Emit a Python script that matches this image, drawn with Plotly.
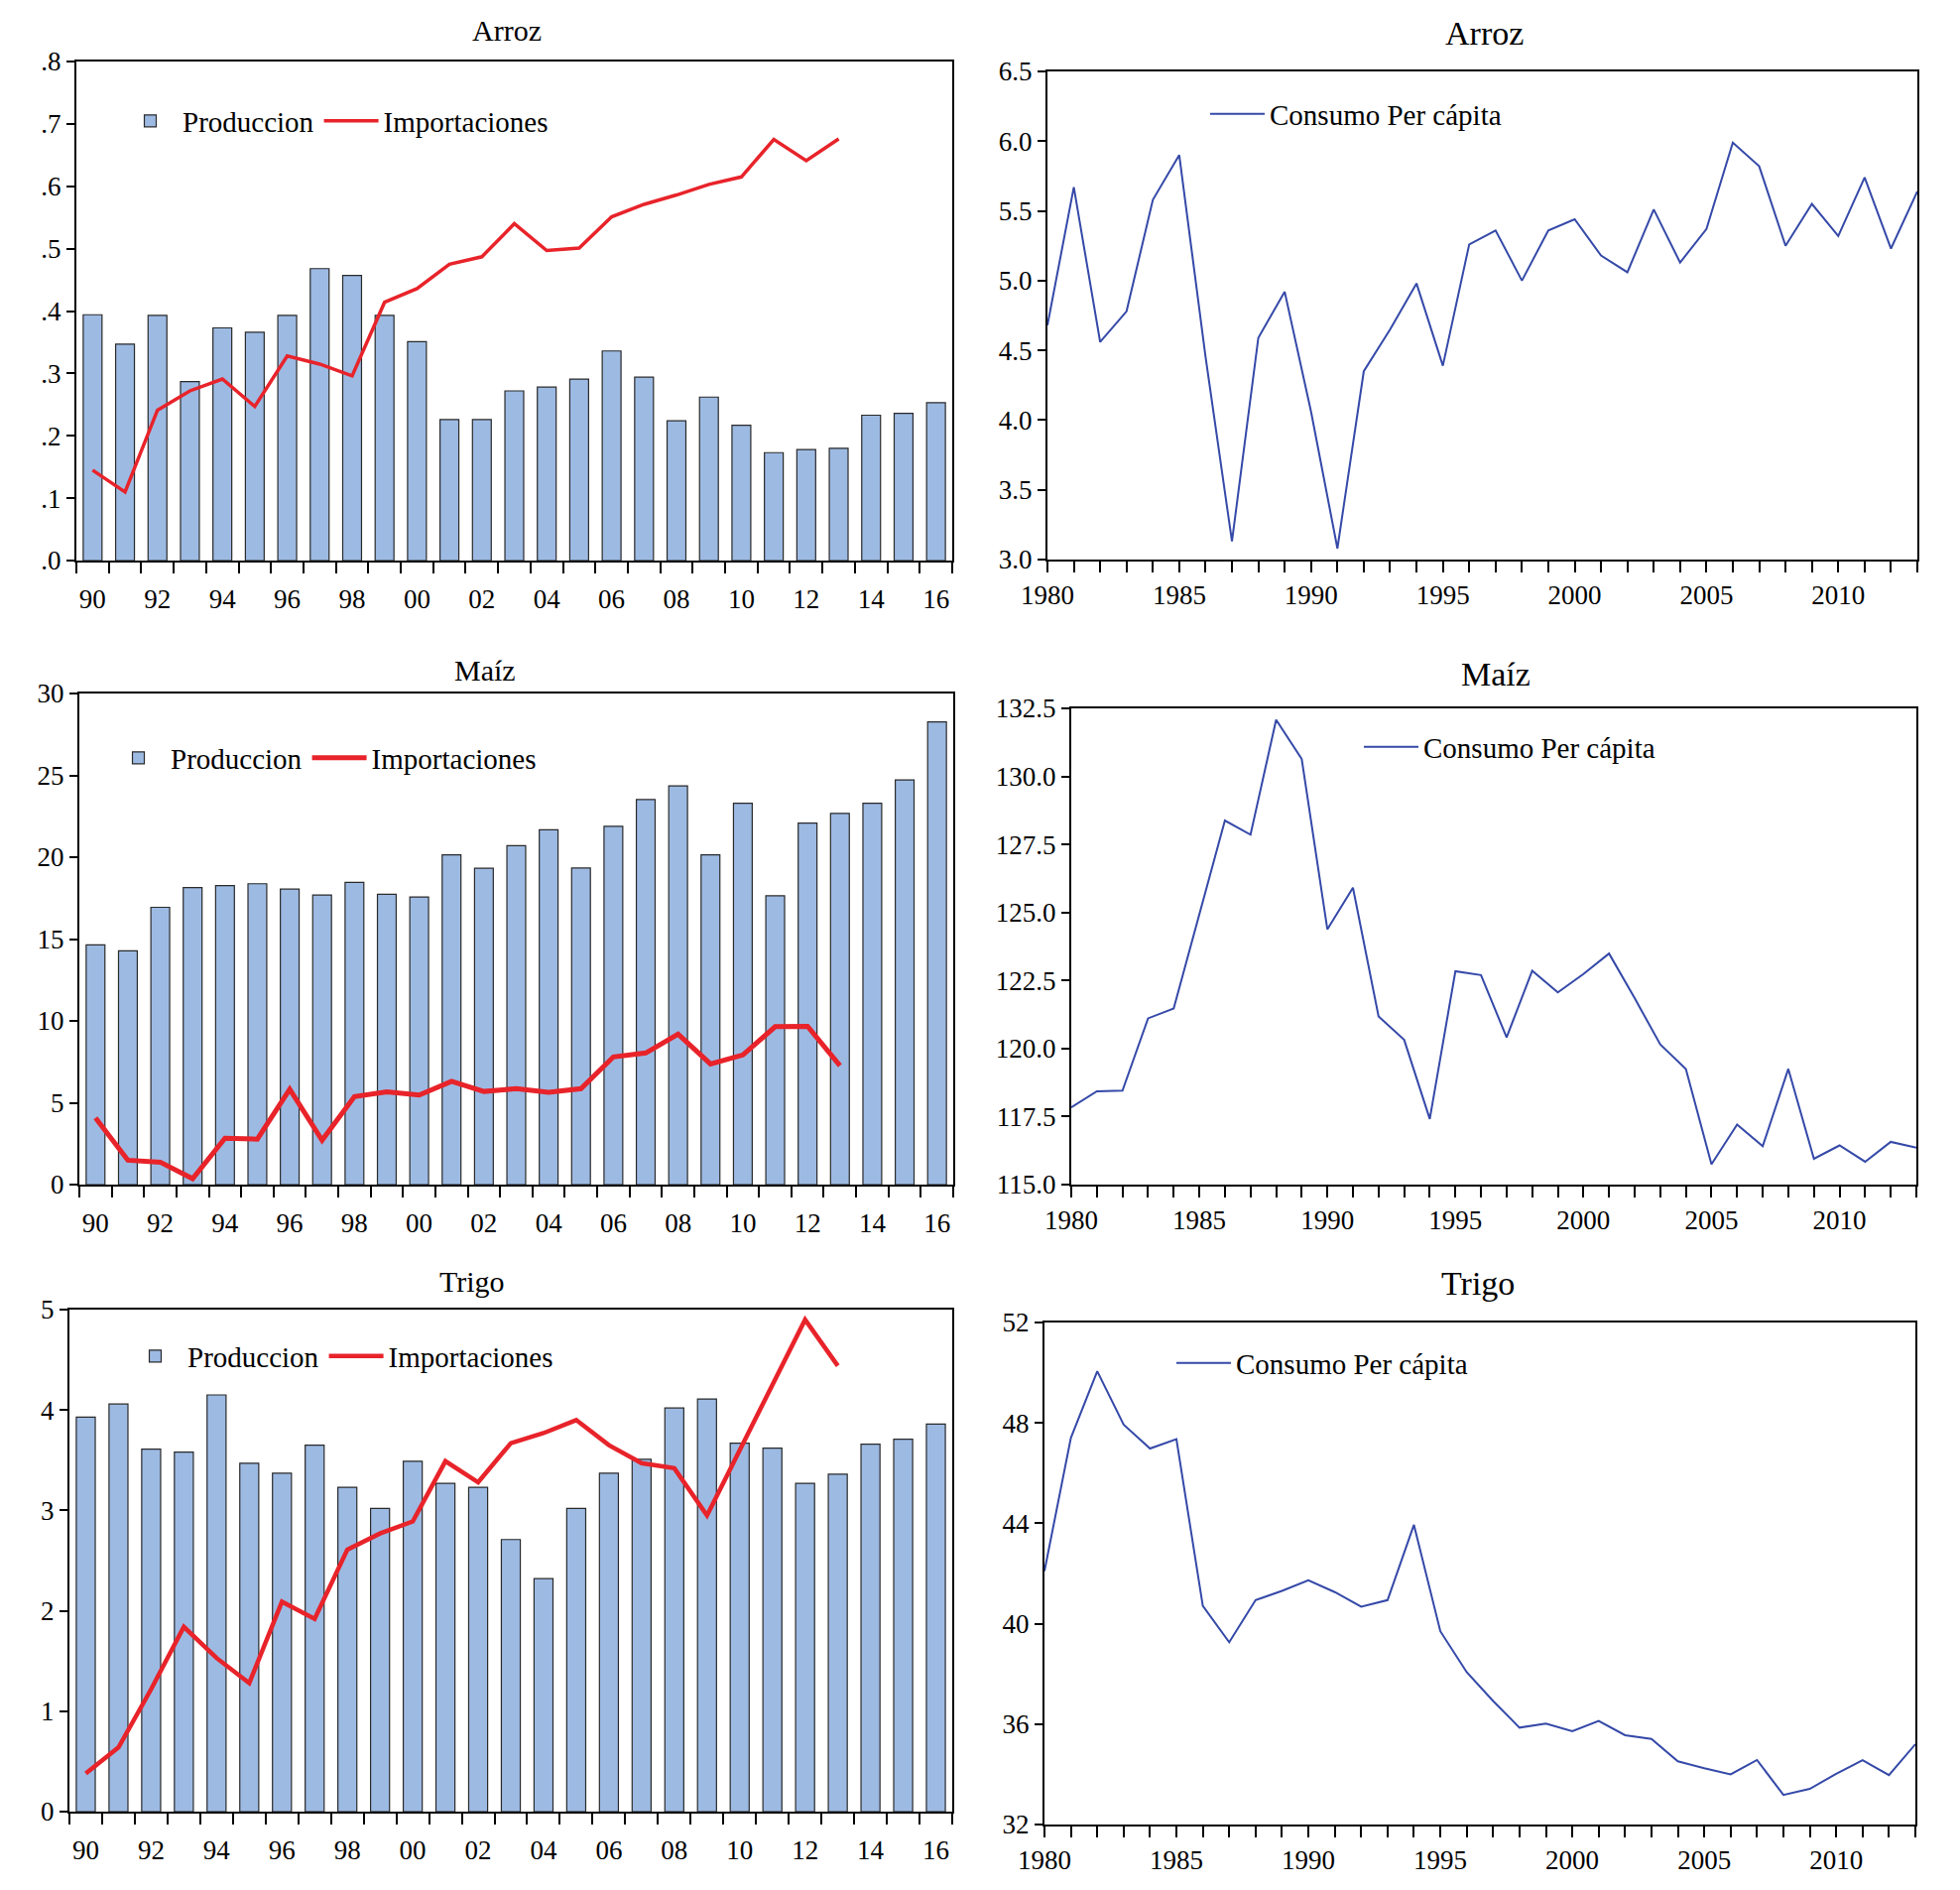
import plotly.graph_objects as go

W, H = 1976, 1905

# ---------------- data ----------------
years_bar = list(range(1990, 2017))
years_imp = list(range(1990, 2014))
years_cons = list(range(1980, 2014))
bar_tick_years = list(range(1990, 2017, 2))
bar_tick_text = ["90", "92", "94", "96", "98", "00", "02", "04", "06", "08", "10", "12", "14", "16"]

arroz_prod = [0.394, 0.347, 0.393, 0.287, 0.373, 0.366, 0.393, 0.468, 0.457, 0.393,
              0.351, 0.226, 0.226, 0.272, 0.278, 0.291, 0.336, 0.294, 0.224, 0.262,
              0.217, 0.173, 0.178, 0.180, 0.233, 0.236, 0.253]
arroz_imp = [0.145, 0.110, 0.241, 0.272, 0.291, 0.247, 0.328, 0.315, 0.296, 0.414,
             0.436, 0.475, 0.487, 0.540, 0.497, 0.501, 0.551, 0.571, 0.586, 0.603,
             0.615, 0.675, 0.641, 0.676]
arroz_cons = [4.68, 5.67, 4.56, 4.78, 5.58, 5.90, 4.45, 3.13, 4.59, 4.92,
              4.06, 3.08, 4.35, 4.65, 4.98, 4.39, 5.26, 5.36, 5.00, 5.36,
              5.44, 5.18, 5.06, 5.51, 5.13, 5.37, 5.99, 5.82, 5.25, 5.55,
              5.32, 5.74, 5.23, 5.64]

maiz_prod = [14.64, 14.28, 16.94, 18.14, 18.26, 18.38, 18.05, 17.69, 18.46, 17.74,
             17.57, 20.14, 19.32, 20.71, 21.67, 19.34, 21.89, 23.52, 24.36, 20.14,
             23.30, 17.64, 22.08, 22.68, 23.30, 24.72, 28.27]
maiz_imp = [4.08, 1.49, 1.37, 0.36, 2.83, 2.78, 5.83, 2.71, 5.38, 5.66,
            5.47, 6.31, 5.69, 5.86, 5.64, 5.86, 7.80, 8.04, 9.19, 7.37,
            7.92, 9.65, 9.67, 7.27]
maiz_cons = [117.84, 118.43, 118.45, 121.11, 121.47, 124.95, 128.38, 127.86, 132.08, 130.64,
             124.38, 125.91, 121.18, 120.32, 117.41, 122.84, 122.70, 120.41, 122.86, 122.06,
             122.74, 123.49, 121.85, 120.15, 119.25, 115.75, 117.21, 116.41, 119.25, 115.95,
             116.44, 115.84, 116.57, 116.36]

trigo_prod = [3.93, 4.06, 3.61, 3.58, 4.15, 3.47, 3.37, 3.65, 3.23, 3.02,
              3.49, 3.27, 3.23, 2.71, 2.32, 3.02, 3.37, 3.51, 4.02, 4.11,
              3.67, 3.62, 3.27, 3.36, 3.66, 3.71, 3.86]
trigo_imp = [0.38, 0.64, 1.22, 1.84, 1.53, 1.28, 2.09, 1.92, 2.61, 2.77,
             2.89, 3.49, 3.28, 3.67, 3.77, 3.90, 3.65, 3.47, 3.42, 2.95,
             3.60, 4.25, 4.90, 4.44]
trigo_cons = [42.1, 47.4, 50.06, 47.93, 46.98, 47.35, 40.71, 39.26, 40.94, 41.31,
              41.73, 41.26, 40.68, 40.94, 43.94, 39.70, 38.07, 36.92, 35.86, 36.02,
              35.72, 36.13, 35.56, 35.41, 34.52, 34.24, 34.00, 34.57, 33.18, 33.42,
              34.02, 34.56, 33.97, 35.20]

cons_label_years = [y if y % 5 == 0 else "" for y in years_cons]

# ---------------- style ----------------
FONT = "Liberation Serif"
BAR_FILL = "#9dbae3"
BAR_LINE = "#2a2a2a"
RED = "#e8232a"
BLUE = "#3549a8"

# panel pixel boxes: left, right, top, bottom
boxes = {
    1: (69, 952, 54, 557),       # Arroz bars
    2: (1048, 1925, 64, 556),    # Arroz consumo
    3: (72, 953, 691, 1186),     # Maiz bars
    4: (1072, 1924, 706, 1186),  # Maiz consumo
    5: (62, 952, 1312, 1818),    # Trigo bars
    6: (1045, 1923, 1325, 1831), # Trigo consumo
}

def dom(i):
    l, r, t, b = boxes[i]
    return [l / W, r / W], [1 - b / H, 1 - t / H]

fig = go.Figure()

def add_bar_panel(i, prod, imp, red_w, legend_name):
    ax = "" if i == 1 else str(i)
    fig.add_trace(go.Bar(x=years_bar, y=prod, name="Produccion", width=0.58,
                         marker=dict(color=BAR_FILL, line=dict(color=BAR_LINE, width=1.2)),
                         xaxis="x" + ax, yaxis="y" + ax, legend=legend_name))
    fig.add_trace(go.Scatter(x=years_imp, y=imp, name="Importaciones", mode="lines",
                             line=dict(color=RED, width=red_w),
                             xaxis="x" + ax, yaxis="y" + ax, legend=legend_name))

def add_cons_panel(i, cons, legend_name):
    ax = str(i)
    fig.add_trace(go.Scatter(x=years_cons, y=cons, name="Consumo Per cápita", mode="lines",
                             line=dict(color=BLUE, width=2),
                             xaxis="x" + ax, yaxis="y" + ax, legend=legend_name))

add_bar_panel(1, arroz_prod, arroz_imp, 3.5, "legend")
add_cons_panel(2, arroz_cons, "legend2")
add_bar_panel(3, maiz_prod, maiz_imp, 5, "legend3")
add_cons_panel(4, maiz_cons, "legend4")
add_bar_panel(5, trigo_prod, trigo_imp, 4.5, "legend5")
add_cons_panel(6, trigo_cons, "legend6")

tickfont = dict(family=FONT, size=27, color="black")
base_axis = dict(showline=True, mirror=True, linecolor="black", linewidth=2,
                 showgrid=False, zeroline=False, tickfont=tickfont, automargin=False,
                 tickcolor="black", tickwidth=1.5)

layout = dict(width=W, height=H, margin=dict(l=0, r=0, t=0, b=0, pad=0, autoexpand=False),
              paper_bgcolor="white", plot_bgcolor="white",
              font=dict(family=FONT, size=27, color="black"), barmode="overlay")

def bar_xaxis(i):
    xd, _ = dom(i)
    return dict(base_axis, domain=xd, anchor="y" + ("" if i == 1 else str(i)),
                range=[1989.5, 2016.5], tickmode="array", tickvals=bar_tick_years,
                ticktext=bar_tick_text, ticks="", ticklabelstandoff=14,
                minor=dict(tickmode="array", tickvals=[y - 0.5 for y in years_bar] + [years_bar[-1] + 0.5],
                           ticks="outside", ticklen=11, tickcolor="black", tickwidth=1.5, showgrid=False))

def cons_xaxis(i):
    xd, _ = dom(i)
    return dict(base_axis, domain=xd, anchor="y" + str(i),
                range=[years_cons[0], years_cons[-1]], tickmode="array", tickvals=years_cons,
                ticktext=cons_label_years, ticks="outside", ticklen=11)

def yaxis(i, rng, dtick, fmt=None, tickvals=None, ticktext=None):
    _, yd = dom(i)
    d = dict(base_axis, domain=yd, anchor="x" + ("" if i == 1 else str(i)), range=rng,
             ticks="outside", ticklen=8)
    if tickvals is not None:
        d.update(tickmode="array", tickvals=tickvals, ticktext=ticktext)
    else:
        d.update(dtick=dtick, tick0=rng[0])
        if fmt:
            d["tickformat"] = fmt
    return d

arroz_ticks = [0.0, 0.1, 0.2, 0.3, 0.4, 0.5, 0.6, 0.7, 0.8]
arroz_ticktext = [".0", ".1", ".2", ".3", ".4", ".5", ".6", ".7", ".8"]

layout["xaxis"] = bar_xaxis(1)
layout["yaxis"] = yaxis(1, [0, 0.8], None, tickvals=arroz_ticks, ticktext=arroz_ticktext)
layout["xaxis2"] = cons_xaxis(2)
layout["yaxis2"] = yaxis(2, [3.0, 6.5], 0.5, ".1f")
layout["xaxis3"] = bar_xaxis(3)
layout["yaxis3"] = yaxis(3, [0, 30], 5)
layout["xaxis4"] = cons_xaxis(4)
layout["yaxis4"] = yaxis(4, [115, 132.5], 2.5, ".1f")
layout["xaxis5"] = bar_xaxis(5)
layout["yaxis5"] = yaxis(5, [0, 5], 1)
layout["xaxis6"] = cons_xaxis(6)
layout["yaxis6"] = yaxis(6, [32, 52], 4)

def legend_at(px, py):
    return dict(x=px / W, y=1 - py / H, xanchor="left", yanchor="middle",
                orientation="h", bgcolor="rgba(0,0,0,0)", borderwidth=0,
                font=dict(family=FONT, size=29, color="black"), itemwidth=55,
                traceorder="normal")

layout["legend"] = legend_at(111, 114)
layout["legend2"] = legend_at(1207, 107)
layout["legend3"] = legend_at(99, 756)
layout["legend4"] = legend_at(1362, 745)
layout["legend5"] = legend_at(116, 1359)
layout["legend6"] = legend_at(1173, 1366)

titles = [("Arroz", 503, 23, 30), ("Arroz", 1488, 25, 34),
          ("Maíz", 481, 668, 30), ("Maíz", 1500, 671, 34),
          ("Trigo", 468, 1283, 30), ("Trigo", 1482, 1285, 34)]
layout["annotations"] = [dict(text=t, x=x / W, y=1 - y / H, xref="paper", yref="paper",
                              xanchor="center", yanchor="middle", showarrow=False,
                              font=dict(family=FONT, size=s, color="black"))
                         for t, x, y, s in titles]

fig.update_layout(**layout)
fig.write_html("out.html")
